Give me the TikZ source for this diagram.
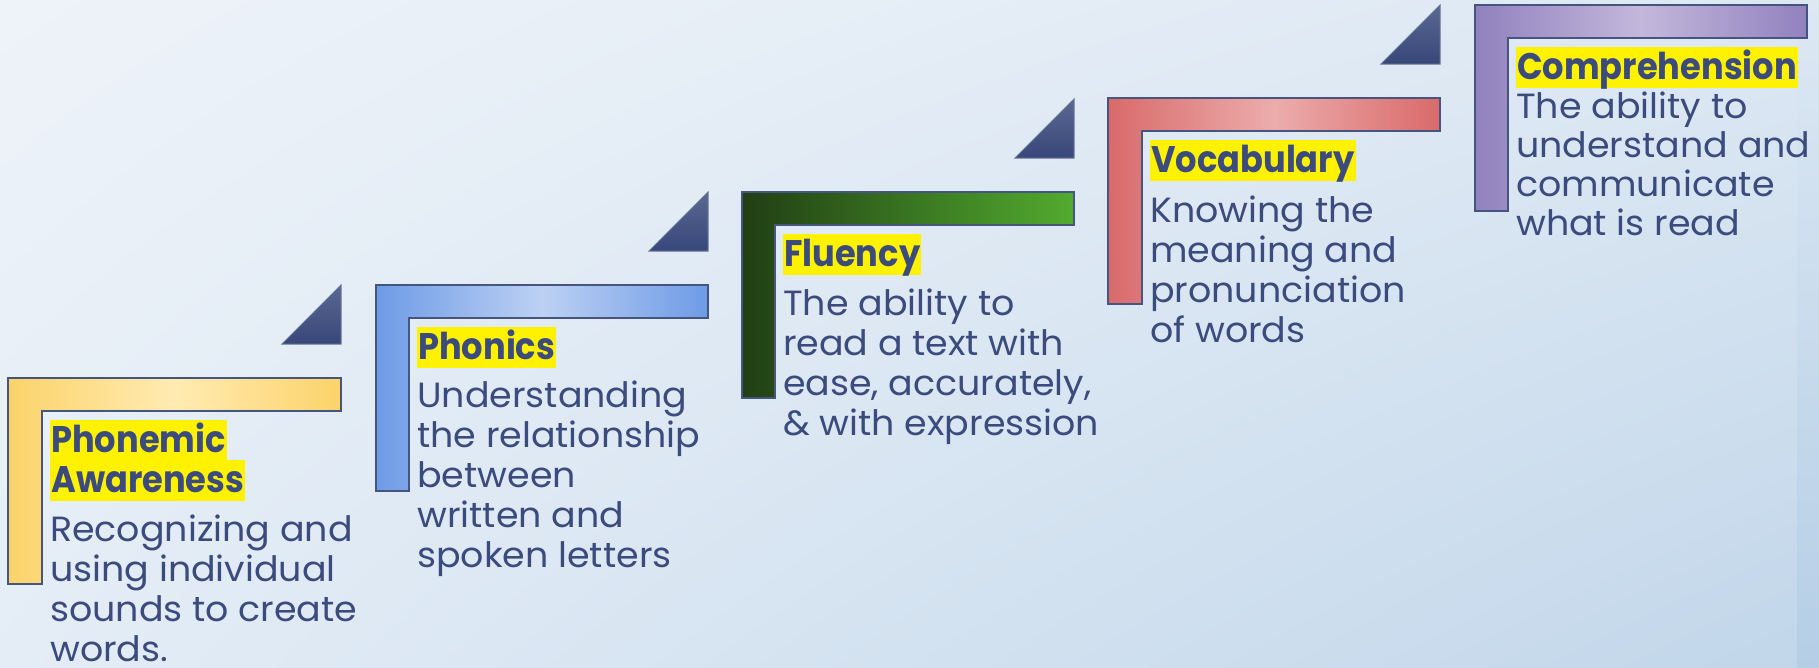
\documentclass[tikz,border=0pt]{standalone}
\usepackage{fontspec}
\setmainfont{Poppins}[FakeStretch=1.04]
\newfontfamily\headfont{Poppins}[FakeStretch=0.91]
\usepackage{tikz}
\usetikzlibrary{positioning, shadings}
\definecolor{BgTopLeft}{RGB}{238,243,249}
\definecolor{BgTopRight}{RGB}{221,232,243}
\definecolor{BgBotLeft}{RGB}{228,237,246}
\definecolor{BgBotRight}{RGB}{193,214,234}
\definecolor{BgStrip}{RGB}{181,206,230}
\definecolor{InkBlue}{RGB}{59,75,126}
\definecolor{EdgeBlue}{RGB}{70,85,127}
\definecolor{YellowEdge}{RGB}{252,211,106}
\definecolor{YellowMid}{RGB}{255,235,178}
\definecolor{BlueEdge}{RGB}{110,155,230}
\definecolor{BlueMid}{RGB}{189,209,243}
\definecolor{GreenDark}{RGB}{33,62,20}
\definecolor{GreenBright}{RGB}{82,171,47}
\definecolor{RedEdge}{RGB}{217,106,106}
\definecolor{RedMid}{RGB}{236,172,172}
\definecolor{PurpleEdge}{RGB}{145,129,190}
\definecolor{PurpleMid}{RGB}{195,184,219}
\definecolor{WedgeTop}{RGB}{90,104,144}
\definecolor{WedgeBot}{RGB}{55,71,122}

\begin{document}
\begin{tikzpicture}[x=1pt, y=-1pt,
		stair/.style={draw=EdgeBlue, line width=1.6pt},
		wedge/.style={draw=EdgeBlue!80!white, line width=1pt, top color=WedgeTop, bottom color=WedgeBot},
		head/.style={fill=yellow, text=InkBlue, font=\fontsize{37}{40}\selectfont\headfont\bfseries, inner xsep=1pt, inner ysep=0pt, text height=32pt, text depth=9pt, anchor=base west},
		body/.style={text=InkBlue, font=\fontsize{35}{40}\selectfont, align=left, inner sep=0pt, anchor=north west, execute at begin node=\strut}]
		\useasboundingbox (0,0) rectangle (1819,667);
		\shade[upper left=BgTopLeft, upper right=BgTopRight, lower left=BgBotLeft, lower right=BgBotRight] (0,0) rectangle (1819,667);
		\shade[top color=BgTopRight, bottom color=BgStrip] (1797,0) rectangle (1819,667);
		% steps
		\shade[stair, left color=YellowEdge, right color=YellowEdge, middle color=YellowMid] (8,378) -- (341,378) -- (341,411) -- (42,411) -- (42,584) -- (8,584) -- cycle;
		\shade[stair, left color=BlueEdge, right color=BlueEdge, middle color=BlueMid] (376,285) -- (708,285) -- (708,318) -- (409,318) -- (409,491) -- (376,491) -- cycle;
		\shade[stair, left color=GreenDark, right color=GreenBright] (742,192) -- (1074,192) -- (1074,225) -- (775,225) -- (775,398) -- (742,398) -- cycle;
		\shade[stair, left color=RedEdge, right color=RedEdge, middle color=RedMid] (1108,98) -- (1440,98) -- (1440,131) -- (1142,131) -- (1142,304) -- (1108,304) -- cycle;
		\shade[stair, left color=PurpleEdge, right color=PurpleEdge, middle color=PurpleMid] (1475,5) -- (1807,5) -- (1807,38) -- (1508,38) -- (1508,211) -- (1475,211) -- cycle;
		% wedges
		\shade[wedge] (282,344) -- (341,344) -- (341,285) -- cycle;
		\shade[wedge] (649,251) -- (708,251) -- (708,192) -- cycle;
		\shade[wedge] (1015,158) -- (1074,158) -- (1074,99) -- cycle;
		\shade[wedge] (1381,64) -- (1440,64) -- (1440,5) -- cycle;
		% labels
		\node[head] (pa-head) at (50,452) {Phonemic};
		\node[head] (pa-head2) at (50,492) {Awareness};
		\node[body] (pa-text) at (50,515) {Recognizing and\\using individual\\sounds to create\\words.};
		\node[head] (ph-head) at (417,359) {Phonics};
		\node[body] (ph-text) at (417,381) {Understanding\\the relationship\\between\\written and\\spoken letters};
		\node[head] (fl-head) at (783,266) {Fluency};
		\node[body] (fl-text) at (783,289) {The ability to\\read a text with\\ease, accurately,\\\& with expression};
		\node[head] (vo-head) at (1150,172) {Vocabulary};
		\node[body] (vo-text) at (1150,196) {Knowing the\\meaning and\\pronunciation\\of words};
		\node[head] (co-head) at (1516,79) {Comprehension};
		\node[body, font=\fontsize{35}{39}\selectfont] (co-text) at (1516,92) {The ability to\\understand and\\communicate\\what is read};
	\end{tikzpicture}
\end{document}
